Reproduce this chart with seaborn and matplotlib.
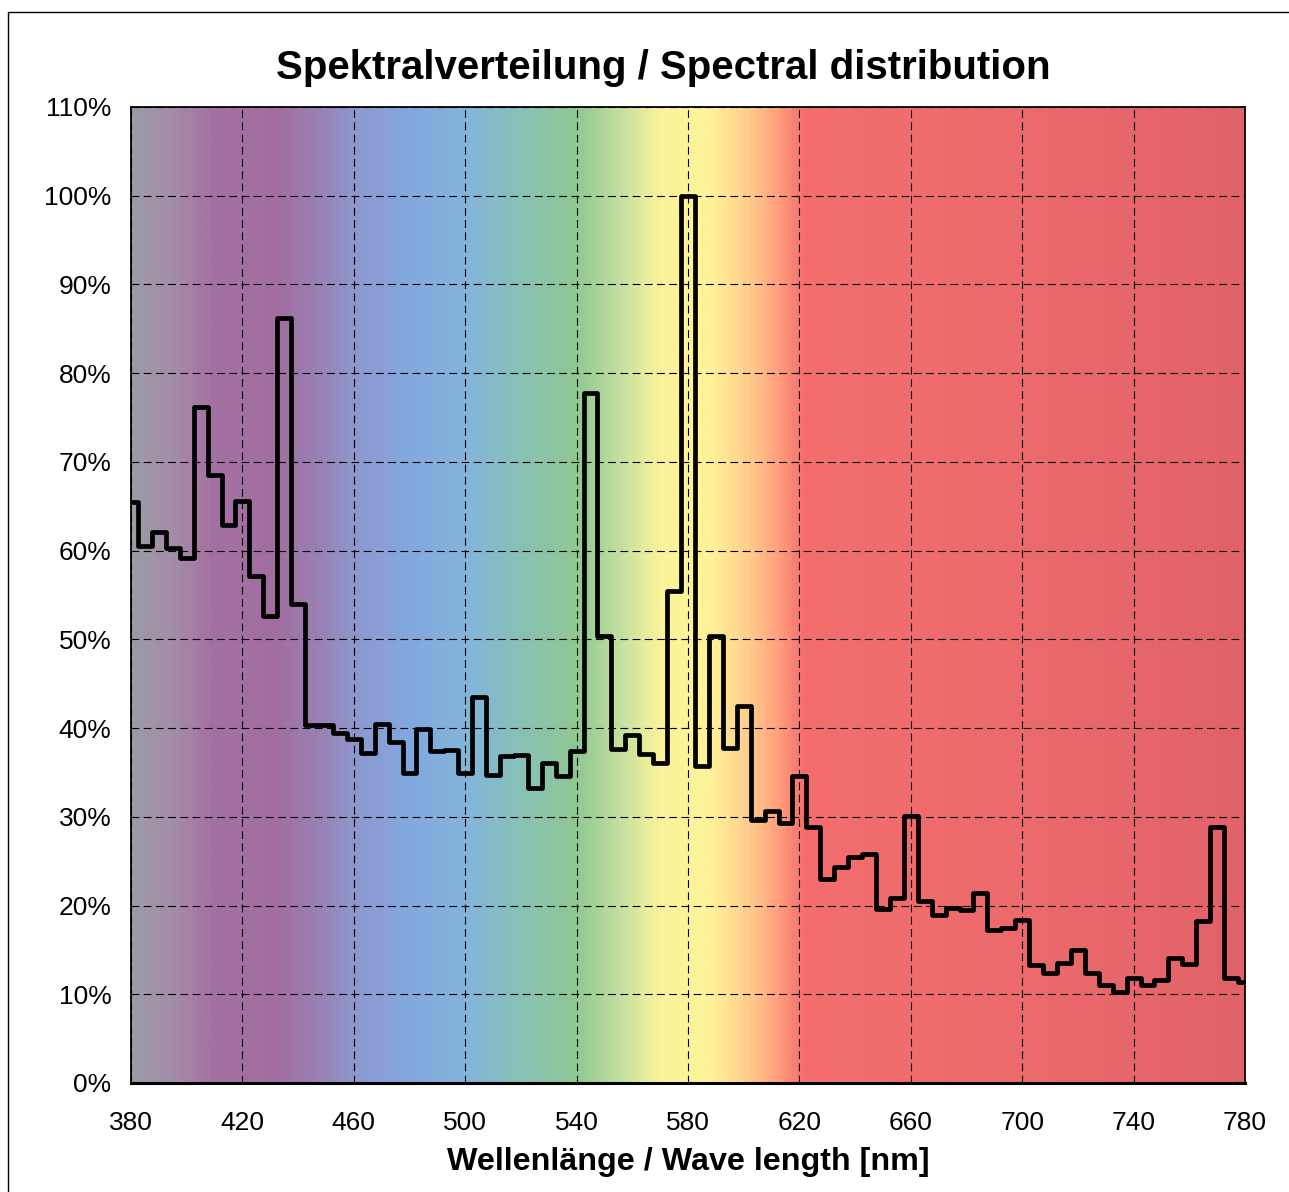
import numpy as np
import matplotlib
matplotlib.use("Agg")
import matplotlib.pyplot as plt
import seaborn as sns
from matplotlib.colors import LinearSegmentedColormap
from matplotlib.lines import Line2D
from matplotlib.ticker import FuncFormatter

# ---- data ----
wavelength = list(range(380, 785, 5))
intensity = [
    65.5, 60.5, 62.1, 60.3, 59.2, 76.2, 68.5, 62.9, 65.6, 57.1,
    52.6, 86.2, 54.0, 40.3, 40.3, 39.4, 38.8, 37.2, 40.5, 38.4,
    34.9, 39.9, 37.4, 37.5, 34.9, 43.5, 34.7, 36.8, 37.0, 33.3,
    36.1, 34.6, 37.4, 77.8, 50.4, 37.6, 39.2, 37.1, 36.1, 55.5,
    100.0, 35.7, 50.4, 37.7, 42.5, 29.6, 30.7, 29.3, 34.6, 28.8,
    23.0, 24.3, 25.5, 25.8, 19.6, 20.9, 30.1, 20.5, 18.9, 19.7,
    19.5, 21.4, 17.3, 17.5, 18.4, 13.3, 12.4, 13.5, 15.0, 12.4,
    11.0, 10.2, 11.8, 11.1, 11.6, 14.1, 13.4, 18.3, 28.9, 11.8,
    11.4,
]
x_ticks = list(range(380, 781, 40))
y_ticks = list(range(0, 111, 10))

title = "Spektralverteilung / Spectral distribution"
xlabel = "Wellenlänge / Wave length [nm]"

# background spectrum colour stops (wavelength, colour)
spec_stops = [
    (380, "#9c9aa6"), (395, "#a48ca8"), (408, "#a472a2"), (432, "#a26ea0"),
    (447, "#9a82b4"), (462, "#8c9ad0"), (480, "#82a8e0"), (502, "#84b6d8"),
    (522, "#88c2b2"), (540, "#90c892"), (556, "#c6e0a0"), (570, "#fbf39a"),
    (588, "#fff398"), (602, "#ffcc8c"), (613, "#ff9e7c"), (622, "#f46e6e"),
    (700, "#ec6a6c"), (780, "#e2626a"),
]

# ---- style ----
sns.set_style("white")
plt.rcParams["font.family"] = ["Liberation Sans", "DejaVu Sans"]
plt.rcParams["text.color"] = "black"

W, H = 1289, 1192
fig = plt.figure(figsize=(W / 100, H / 100), dpi=100)
ax = fig.add_axes([131 / W, 1 - 1083 / H, (1245 - 131) / W, (1083 - 107) / H])

# background gradient
lo, hi = spec_stops[0][0], spec_stops[-1][0]
cmap = LinearSegmentedColormap.from_list(
    "spec", [((w - lo) / (hi - lo), c) for w, c in spec_stops])
grad = np.linspace(0, 1, 1200)[None, :]
ax.imshow(grad, cmap=cmap, aspect="auto", extent=[380, 780, 0, 110],
          zorder=0, interpolation="bilinear")

# step line
sns.lineplot(x=wavelength, y=intensity, ax=ax, color="black", linewidth=3.4,
             drawstyle="steps-mid", zorder=3, estimator=None)

ax.set_xlim(380, 780)
ax.set_ylim(0, 110)
ax.set_xticks(x_ticks)
ax.set_yticks(y_ticks)
ax.yaxis.set_major_formatter(FuncFormatter(lambda v, p: f"{int(round(v))}%"))
ax.grid(True, color="black", linestyle=(0, (7, 4)), linewidth=0.8, zorder=1)
for gl in ax.get_xgridlines() + ax.get_ygridlines():
    gl.set_zorder(1)

for s in ax.spines.values():
    s.set_color("black")
    s.set_linewidth(1.3)
    s.set_visible(True)
ax.spines["bottom"].set_linewidth(2.2)

ax.tick_params(axis="both", direction="out", length=6, width=1.2,
               colors="black", labelcolor="black", labelsize=19)
ax.tick_params(axis="y", pad=8)
ax.tick_params(axis="x", pad=14)
ax.set_xlabel("")
ax.set_ylabel("")

fig.text(663 / W, 1 - 68 / H, title, ha="center", va="center",
         fontsize=29, fontweight="bold", color="black")
fig.text(688 / W, 1 - 1162 / H, xlabel, ha="center", va="center",
         fontsize=23.2, fontweight="bold", color="black")

# outer frame (left and top edges)
fig.add_artist(Line2D([8 / W, 8 / W], [0, 1 - 12 / H], color="black",
                      linewidth=1.0, transform=fig.transFigure))
fig.add_artist(Line2D([8 / W, 1], [1 - 12 / H, 1 - 12 / H], color="black",
                      linewidth=1.0, transform=fig.transFigure))

fig.savefig("out.png", dpi=100, facecolor="white")
